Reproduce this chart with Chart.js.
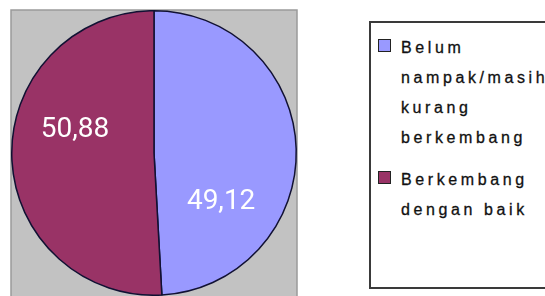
<!DOCTYPE html>
<html lang="id">
<head>
  <meta charset="UTF-8">
  <title>Pie</title>
  <script src="https://cdn.jsdelivr.net/npm/chart.js"></script>
  <style>
    body { margin: 0; padding: 0; background: #fff; overflow: hidden; width: 545px; height: 296px; position: relative; }
    #pie { position: absolute; left: 0; top: 0; }
    #legend {
      position: absolute; left: 369px; top: 21px; width: 200px; height: 264px;
      border: 2px solid #3a3a3a; background: #fff;
      font-family: "Liberation Sans", Arial, sans-serif; font-size: 16px; color: #111;
      letter-spacing: 3.6px; -webkit-text-stroke: 0.3px #111;
    }
    .item { position: relative; padding-left: 30px; line-height: 30px; }
    .item .sw { position: absolute; left: 7px; top: 6px; width: 11px; height: 11px; border: 1.5px solid #222; }
    #legend .item:first-child { margin-top: 10px; }
    #legend .item + .item { margin-top: 12px; }
  </style>
</head>
<body>
  <canvas id="pie" width="545" height="296"></canvas>
  <div id="legend"></div>

  <script>
    const labels = [['Belum', 'nampak/masih', 'kurang', 'berkembang'], ['Berkembang', 'dengan baik']];
    const values = [49.12, 50.88];
    const valueText = ['49,12', '50,88'];
    const colors = ['#9999ff', '#993366'];

    // where along the slice (0..1 of the sweep) the number sits
    const labelPos = [0.71, 0.60];

    const plotBox = {
      id: 'plotBox',
      beforeDraw(chart) {
        const a = chart.chartArea, c = chart.ctx;
        c.save();
        c.fillStyle = '#c2c2c2';
        c.fillRect(a.left, a.top, a.right - a.left, chart.height - a.top);
        c.strokeStyle = '#9a9a9a';
        c.lineWidth = 1.5;
        c.strokeRect(a.left, a.top, a.right - a.left, chart.height - a.top + 5);
        c.restore();
      }
    };

    const sliceNumbers = {
      id: 'sliceNumbers',
      afterDatasetsDraw(chart) {
        const c = chart.ctx;
        const arcs = chart.getDatasetMeta(0).data;
        c.save();
        c.fillStyle = '#ffffff';
        c.font = '28px Roboto, sans-serif';
        c.textAlign = 'center';
        c.textBaseline = 'middle';
        arcs.forEach((arc, i) => {
          const p = arc.getProps(['x', 'y', 'startAngle', 'endAngle', 'outerRadius']);
          const ang = p.startAngle + (p.endAngle - p.startAngle) * labelPos[i];
          const r = p.outerRadius * 0.58;
          c.fillText(valueText[i], p.x + Math.cos(ang) * r, p.y + Math.sin(ang) * r + 1);
        });
        c.restore();
      }
    };

    const chart = new Chart(document.getElementById('pie'), {
      type: 'pie',
      data: {
        labels: labels,
        datasets: [{
          data: values,
          backgroundColor: colors,
          borderColor: '#111133',
          borderWidth: 1.5
        }]
      },
      options: {
        responsive: false,
        animation: false,
        layout: { padding: { left: 11, top: 10, right: 248, bottom: 0 } },
        plugins: { legend: { display: false }, tooltip: { enabled: false } }
      },
      plugins: [plotBox, sliceNumbers]
    });

    // legend as html, from the chart's own legend items
    const items = chart.options.plugins.legend.labels.generateLabels(chart);
    document.getElementById('legend').innerHTML = items.map(it =>
      '<div class="item"><span class="sw" style="background:' + it.fillStyle + '"></span>' +
      [].concat(chart.data.labels[it.index]).join('<br>') + '</div>'
    ).join('');
  </script>
</body>
</html>
